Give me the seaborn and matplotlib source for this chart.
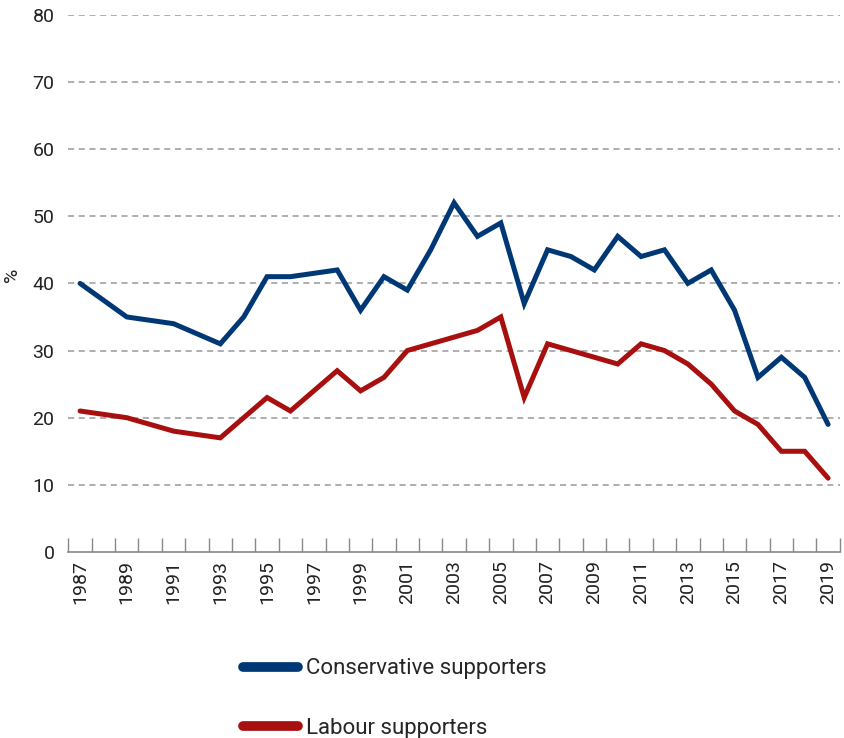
import numpy as np
import pandas as pd
import matplotlib
matplotlib.use("Agg")
import matplotlib.pyplot as plt
import seaborn as sns

# data
con_years = [1987, 1989, 1991, 1993, 1994, 1995, 1996, 1998, 1999, 2000, 2001, 2002, 2003,
             2004, 2005, 2006, 2007, 2008, 2009, 2010, 2011, 2012, 2013, 2014, 2015, 2016,
             2017, 2018, 2019]
con_values = [40, 35, 34, 31, 35, 41, 41, 42, 36, 41, 39, 45, 52,
              47, 49, 37, 45, 44, 42, 47, 44, 45, 40, 42, 36, 26,
              29, 26, 19]

lab_years = [1987, 1989, 1991, 1993, 1994, 1995, 1996, 1998, 1999, 2000, 2001, 2002, 2003,
             2004, 2005, 2006, 2007, 2008, 2009, 2010, 2011, 2012, 2013, 2014, 2015, 2016,
             2017, 2018, 2019]
lab_values = [21, 20, 18, 17, 20, 23, 21, 27, 24, 26, 30, 31, 32,
              33, 35, 23, 31, 30, 29, 28, 31, 30, 28, 25, 21, 19,
              15, 15, 11]

series_names = ["Conservative supporters", "Labour supporters"]
colors = ["#003876", "#a81010"]

df = pd.concat([
    pd.DataFrame({"year": con_years, "pct": con_values, "group": series_names[0]}),
    pd.DataFrame({"year": lab_years, "pct": lab_values, "group": series_names[1]}),
])

sns.set_style("white")
plt.rcParams["font.family"] = ["Roboto", "DejaVu Sans"]

fig = plt.figure(figsize=(8.44, 7.38), dpi=100)
ax = fig.add_axes([0.081, 0.252, 0.914, 0.728])

sns.lineplot(data=df, x="year", y="pct", hue="group", palette=colors,
             linewidth=3.6, ax=ax, legend=False, solid_capstyle="round",
             solid_joinstyle="miter")

ax.set_ylim(0, 80)
ax.set_xlim(1986.5, 2019.5)
ax.set_yticks(range(0, 81, 10))
ax.tick_params(axis="y", length=0, labelsize=14, pad=10, labelcolor="#222222")
for y in range(10, 81, 10):
    ax.axhline(y, color="#999999", lw=1.1, ls=(0, (4, 3)), zorder=0)

ax.set_xticks(range(1987, 2020, 2))
ax.set_xticklabels([str(y) for y in range(1987, 2020, 2)], rotation=90)
ax.set_xticks(np.arange(1986.5, 2020, 1), minor=True)
ax.tick_params(axis="x", which="major", bottom=True, length=0, labelsize=14, pad=6,
               labelcolor="#222222")
ax.tick_params(axis="x", which="minor", bottom=True, direction="in", length=10, width=1,
               color="#888888")

for s in ["left", "right", "top"]:
    ax.spines[s].set_visible(False)
ax.spines["bottom"].set_color("#888888")
ax.spines["bottom"].set_linewidth(1.2)

ax.set_xlabel("")
ax.set_ylabel("")
fig.text(12 / 844, 1 - 275 / 738, "%", rotation=90, fontsize=14, color="#222222",
         ha="center", va="center")

handles = [plt.Line2D([0], [0], color=c, lw=7, solid_capstyle="round") for c in colors]
fig.legend(handles, series_names, loc="upper left", bbox_to_anchor=(0.288, 0.108),
           frameon=False, fontsize=16, handlelength=2.45, handletextpad=0.4,
           labelspacing=1.75, borderaxespad=0, borderpad=0)

fig.savefig("out.png", dpi=100)
